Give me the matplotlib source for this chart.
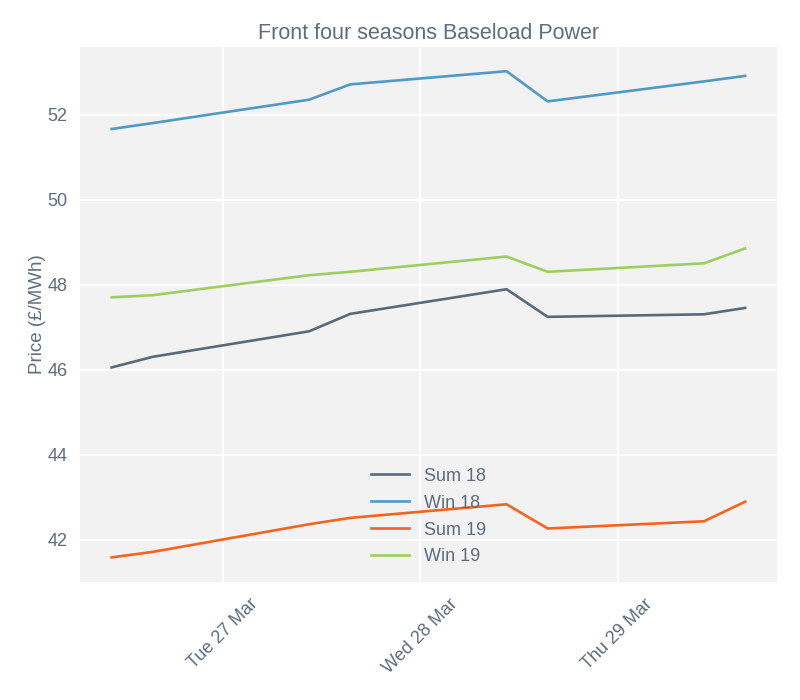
import matplotlib
matplotlib.use("Agg")
import matplotlib.pyplot as plt
import matplotlib.dates as mdates
import pandas as pd

times = ["2018-03-26 10:30", "2018-03-26 15:30", "2018-03-27 10:30", "2018-03-27 15:30",
         "2018-03-28 10:30", "2018-03-28 15:30", "2018-03-29 10:30", "2018-03-29 15:30"]
sum18 = [46.05, 46.30, 46.90, 47.31, 47.89, 47.24, 47.30, 47.45]
win18 = [51.66, 51.80, 52.35, 52.71, 53.02, 52.31, 52.78, 52.91]
sum19 = [41.58, 41.71, 42.36, 42.51, 42.83, 42.26, 42.43, 42.89]
win19 = [47.70, 47.75, 48.22, 48.30, 48.66, 48.30, 48.50, 48.85]
series_names = ["Sum 18", "Win 18", "Sum 19", "Win 19"]
colors = ["#586b7b", "#4f9bc4", "#f5631f", "#9ccf5f"]
tick_days = ["2018-03-27", "2018-03-28", "2018-03-29"]
tick_labels = ["Tue 27 Mar", "Wed 28 Mar", "Thu 29 Mar"]

plt.rcParams['font.family'] = ['Liberation Sans', 'DejaVu Sans']
txt = "#5d6d7e"

fig = plt.figure(figsize=(8, 7), dpi=100)
ax = fig.add_axes([0.1, 0.169, 0.871, 0.764])
ax.set_facecolor("#f2f2f2")
x = pd.to_datetime(times)
for name, vals, c in zip(series_names, [sum18, win18, sum19, win19], colors):
    ax.plot(x, vals, color=c, lw=1.9, label=name)

ax.grid(True, color="white", lw=1.5)
ax.set_axisbelow(True)
for s in ax.spines.values():
    s.set_visible(False)
ax.set_yticks([42, 44, 46, 48, 50, 52])
ax.set_xticks(pd.to_datetime(tick_days))
ax.set_xticklabels(tick_labels, rotation=45, ha="center")
ax.tick_params(length=0, colors=txt, labelsize=13)
ax.tick_params(axis="x", pad=10)
ax.tick_params(axis="y", pad=9)
ax.set_ylabel("Price (£/MWh)", color=txt, fontsize=13.5, labelpad=1)
ax.set_title("Front four seasons Baseload Power", color=txt, fontsize=15.5, pad=6)
leg = ax.legend(loc="lower center", frameon=False, fontsize=13, handlelength=2.1,
                labelspacing=0.55, bbox_to_anchor=(0.5, 0.0))
for t in leg.get_texts():
    t.set_color(txt)

fig.savefig("out.png", dpi=100, facecolor="white")
